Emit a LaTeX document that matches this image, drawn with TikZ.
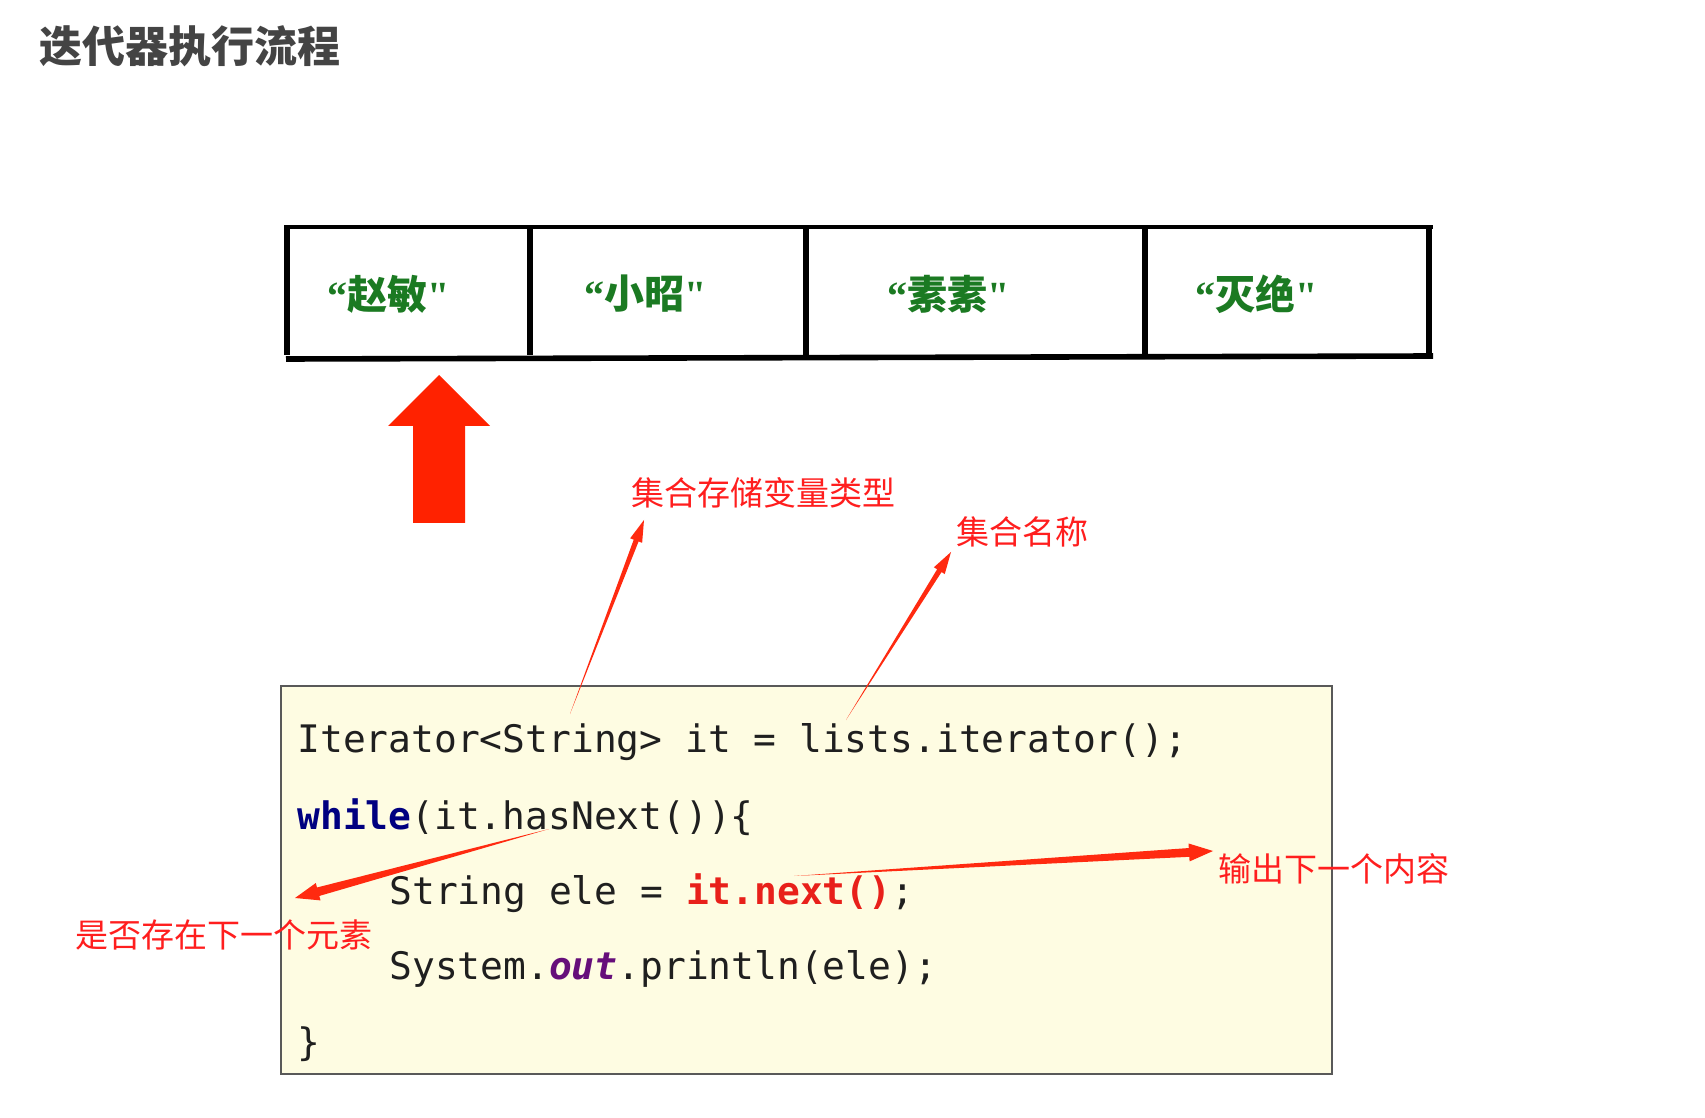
\documentclass[tikz,border=0pt]{standalone}
\usepackage{fontspec}
\usetikzlibrary{calc}
\newfontfamily\cjk{Noto Sans CJK SC}
\newfontfamily\codefont{DejaVu Sans Mono}
\newfontfamily\qfont{Liberation Serif}
\definecolor{titlegray}{HTML}{444444}
\definecolor{cellgreen}{HTML}{1B7A22}
\definecolor{annred}{HTML}{FF1E1E}
\definecolor{arrred}{HTML}{FF2A10}
\definecolor{bigred}{HTML}{FF2200}
\definecolor{codebg}{HTML}{FEFCE2}
\definecolor{kwblue}{HTML}{000080}
\definecolor{callred}{HTML}{E8201A}
\definecolor{fieldpurple}{HTML}{660E7A}
\tikzset{
  titletext/.style={anchor=west, inner sep=0pt, font=\cjk\bfseries\fontsize{21.5pt}{24pt}\selectfont, text=titlegray},
  celltext/.style={inner sep=0pt, font=\cjk\bfseries\fontsize{20pt}{23pt}\selectfont, text=cellgreen},
  anntext/.style={inner sep=0pt, font=\cjk\fontsize{16.5pt}{19pt}\selectfont, text=annred},
  codeline/.style={anchor=base west, inner sep=0pt, font=\codefont\fontsize{18.95pt}{22pt}\selectfont, text=black!88},
  tableline/.style={line width=2.3pt, black},
  codebox/.style={draw=black!65, line width=0.7pt, fill=codebg},
}
\newcommand\taperarrow[5]{%
  \coordinate (hb) at ($(#2)!#5!(#1)$);
  \fill[arrred] (#1) -- ($(hb)!#3!90:(#2)$) -- ($(hb)!#4!90:(#2)$) -- (#2)
     -- ($(hb)!#4!-90:(#2)$) -- ($(hb)!#3!-90:(#2)$) -- cycle;
}
\newcommand\myoq{{\qfont\bfseries “}}
\newcommand\mycq{{\qfont\bfseries "}}
\begin{document}
\begin{tikzpicture}[x=0.5pt,y=-0.5pt]
\useasboundingbox (0,0) rectangle (1705,1118);
\fill[white] (0,0) rectangle (1705,1118);

% title
\node[titletext] (title) at (39,46) {迭代器执行流程};

% table
\draw[tableline] (284,227) -- (1433,227);
\draw[tableline, line width=2.8pt] (286,359) -- (1433,356);
\foreach \x in {287,530,806,1145,1429}
  \draw[tableline, line width=2.6pt] (\x,226) -- (\x,355);
\node[celltext] (c1) at (389,294) {\myoq 赵敏\mycq};
\node[celltext] (c2) at (646,294) {\myoq 小昭\mycq};
\node[celltext] (c3) at (949,294) {\myoq 素素\mycq};
\node[celltext] (c4) at (1257,294) {\myoq 灭绝\mycq};

% big red arrow
\fill[bigred] (439,375) -- (490,426) -- (465,426) -- (465,523) -- (413,523) -- (413,426) -- (388,426) -- cycle;

% code box
\draw[codebox] (281,686) rectangle (1332,1074);
\node[codeline] (l1) at (297,752) {Iterator<String> it = lists.iterator();};
\node[codeline] (l2) at (297,829) {{\bfseries\color{kwblue}while}(it.hasNext())\{};
\node[codeline] (l3) at (389,904) {String ele = {\bfseries\color{callred}it.next()};};
\node[codeline] (l4) at (389,979) {System.{\bfseries\itshape\color{fieldpurple}out}.println(ele);};
\node[codeline] (l5) at (297,1055) {\}};

% annotations
\node[anntext] (a1) at (763,493) {集合存储变量类型};
\node[anntext] (a2) at (1022,532) {集合名称};
\node[anntext] (a3) at (1334,869) {输出下一个内容};
\node[anntext] (a4) at (224,935) {是否存在下一个元素};

% arrows
\coordinate (t1) at (570,714); \coordinate (h1) at (644,520);
\coordinate (t2) at (846,720); \coordinate (h2) at (951,552);
\coordinate (t3) at (549,829); \coordinate (h3) at (295,898);
\coordinate (t4) at (794,876); \coordinate (h4) at (1213,851);
\taperarrow{t1}{h1}{1.3pt}{3.2pt}{11pt}
\taperarrow{t2}{h2}{1.3pt}{3.2pt}{11pt}
\taperarrow{t3}{h3}{2.2pt}{4.5pt}{12pt}
\taperarrow{t4}{h4}{2.2pt}{4.5pt}{12pt}
\end{tikzpicture}
\end{document}
